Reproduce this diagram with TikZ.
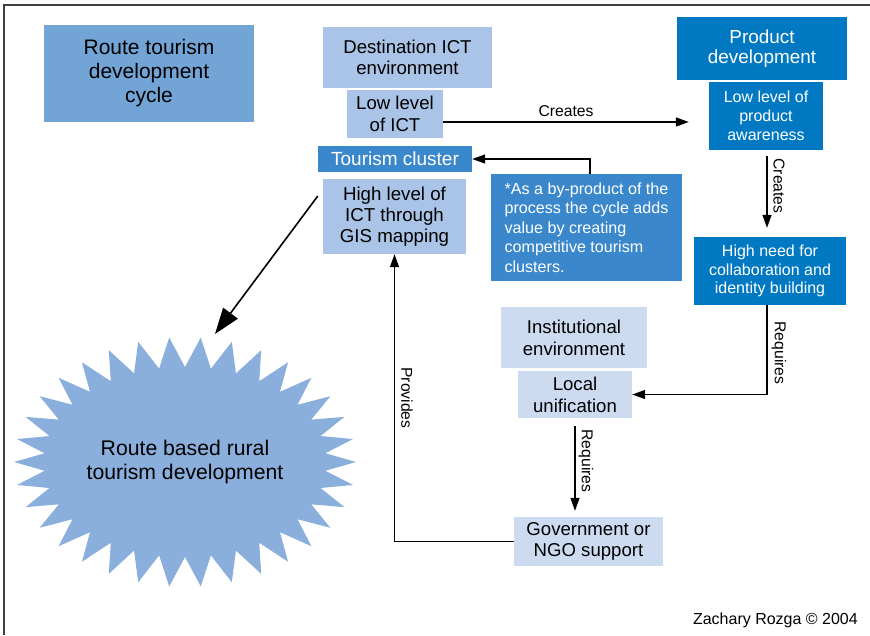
\documentclass[tikz,border=0pt]{standalone}
\usepackage{fontspec}
\setmainfont{Liberation Sans}
\usetikzlibrary{arrows.meta,calc}
\definecolor{cTitle}{HTML}{72A4D6}
\definecolor{cLight}{HTML}{A9C4E6}
\definecolor{cPale}{HTML}{CCDBF0}
\definecolor{cMid}{HTML}{3A88CB}
\definecolor{cDark}{HTML}{0079C2}
\definecolor{cStar}{HTML}{8AAFDC}
\begin{document}
\begin{tikzpicture}[x=1pt,y=-1pt,
 box/.style={inner sep=0pt, align=center, font=\fontsize{18.6}{21.5}\selectfont},
 lightbox/.style={box, fill=cLight},
 palebox/.style={box, fill=cPale},
 darkbox/.style={box, fill=cDark, text=white},
 midbox/.style={box, fill=cMid, text=white},
 smalltext/.style={font=\fontsize{16}{19}\selectfont},
 conn/.style={line width=1.3pt, -{Triangle[length=13pt,width=9pt]}},
 bigconn/.style={line width=1.6pt, -{Triangle[length=26pt,width=18pt]}},
 lab/.style={font=\fontsize{15.7}{18}\selectfont, inner sep=0pt},
 frame/.style={line width=1.8pt, black!75},
]
\useasboundingbox (0,0) rectangle (870,635);
\draw[frame] (870,5) -- (4,5) -- (4,635);

% starburst
\fill[cStar] plot[domain=0:68, samples=69, variable=\k]
  ({185+(156+15*cos(180*\k))*cos(\k*5.2941176)}, {462+(110+15*cos(180*\k))*sin(\k*5.2941176)}) -- cycle;
\node[box, font=\fontsize{21.2}{24}\selectfont] (star) at (185,462) {Route based rural\\tourism development};
\coordinate (starTop) at (215,334);

% boxes
\node[box, fill=cTitle, minimum width=210pt, minimum height=97pt, font=\fontsize{21}{24}\selectfont] (title) at (149,73.5) {Route tourism\\development\\cycle};
\node[lightbox, minimum width=169pt, minimum height=61pt] (dest) at (407.5,57.5) {Destination ICT\\environment};
\node[lightbox, minimum width=96pt, minimum height=48pt] (lowict) at (395,114) {Low level\\of ICT};
\node[midbox, minimum width=154pt, minimum height=26pt, font=\fontsize{19}{21.5}\selectfont] (cluster) at (395,159) {Tourism cluster};
\node[lightbox, minimum width=143pt, minimum height=75pt, font=\fontsize{18.7}{20.7}\selectfont] (highict) at (394.5,216.5) {High level of\\ICT through\\GIS mapping};
\node[midbox, align=left, minimum width=191pt, minimum height=107pt, font=\fontsize{16.1}{19.4}\selectfont] (byprod) at (586.5,227.5) {*As a by-product of the\\process the cycle adds\\value by creating\\competitive tourism\\clusters.};
\node[darkbox, minimum width=170pt, minimum height=63pt, font=\fontsize{18.9}{20.7}\selectfont] (proddev) at (762,48.5) {Product\\development};
\node[darkbox, smalltext, minimum width=114pt, minimum height=68pt] (lowprod) at (766,116) {Low level of\\product\\awareness};
\node[darkbox, minimum width=152pt, minimum height=68pt, font=\fontsize{16}{18.5}\selectfont] (highneed) at (770,271) {High need for\\collaboration and\\identity building};
\node[palebox, minimum width=146pt, minimum height=61pt, font=\fontsize{18.6}{22}\selectfont] (inst) at (574,337.5) {Institutional\\environment};
\node[palebox, minimum width=114pt, minimum height=47pt, font=\fontsize{18.6}{22}\selectfont] (local) at (575,394.5) {Local\\unification};
\node[palebox, minimum width=149pt, minimum height=49pt] (gov) at (588.5,541.5) {Government or\\NGO support};

% connectors
\draw[conn] ([yshift=-8pt]lowict.east) -- ([shift={(-20pt,-8pt)}]lowprod.west |- lowict.east)
  node[lab, midway, above=5pt] {Creates};
\draw[conn, shorten <=6pt, shorten >=9pt] ([xshift=1pt]lowprod.south) -- ([xshift=1pt]lowprod.south |- highneed.north);
\node[lab, rotate=-90] at (779,186) {Creates};
\draw[conn] ([xshift=3.5pt]byprod.north) |- (cluster.east);
\draw[conn] ([xshift=-3pt]highneed.south) |- (local.east);
\node[lab, rotate=-90] at (779,353) {Requires};
\draw[conn, shorten <=8pt, shorten >=6pt] (local.south) -- (local.south |- gov.north);
\node[lab, rotate=-90] at (586,461) {Requires};
\draw[conn] (gov.west) -| (highict.south);
\node[lab, rotate=-90] at (407,398) {Provides};
\draw[bigconn] ([shift={(-5pt,20.5pt)}]highict.west) -- (starTop);

\node[anchor=east, inner sep=0pt, font=\fontsize{16}{19}\selectfont] (copy) at (858,620) {Zachary Rozga © 2004};
\end{tikzpicture}
\end{document}
